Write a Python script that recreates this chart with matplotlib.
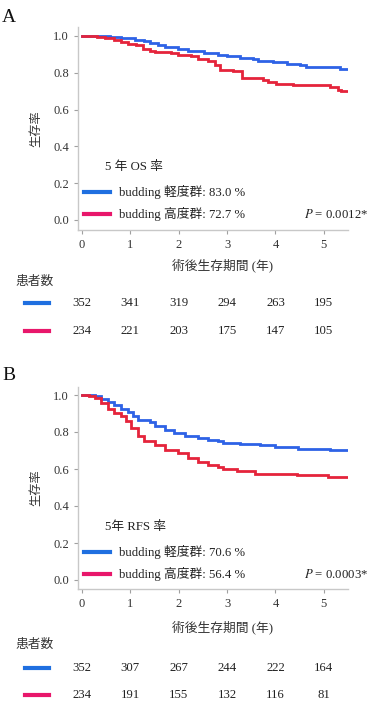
import matplotlib
matplotlib.use("Agg")
import matplotlib.pyplot as plt
from matplotlib.lines import Line2D
import matplotlib.transforms as mtransforms

W, H = 371, 710
FAM = ['Liberation Serif', 'Noto Sans CJK JP']

# ---------------- data ----------------
years = [0, 1, 2, 3, 4, 5]
groups = ["budding 軽度群", "budding 高度群"]

# Panel A (OS)
osA_low_t = [0, 0.57, 0.81, 1.09, 1.29, 1.40, 1.57, 1.71, 1.98, 2.19, 2.53, 2.81, 2.99, 3.26,
             3.53, 3.64, 3.95, 4.23, 4.5, 4.64, 5.33, 5.5]
osA_low_s = [1.0, 0.995, 0.989, 0.98, 0.975, 0.962, 0.953, 0.938, 0.929, 0.92, 0.908, 0.898,
             0.89, 0.88, 0.875, 0.862, 0.857, 0.848, 0.84, 0.83, 0.823, 0.823]
osA_high_t = [0, 0.3, 0.47, 0.67, 0.81, 0.95, 1.12, 1.26, 1.40, 1.5, 1.84, 1.98, 2.25, 2.4, 2.6,
              2.75, 2.85, 3.12, 3.3, 3.74, 3.84, 4.02, 4.37, 5.12, 5.29, 5.36, 5.5]
osA_high_s = [1.0, 0.996, 0.989, 0.98, 0.967, 0.958, 0.949, 0.931, 0.92, 0.911, 0.908, 0.898,
              0.89, 0.877, 0.862, 0.844, 0.817, 0.808, 0.772, 0.763, 0.75, 0.739, 0.732, 0.723,
              0.708, 0.70, 0.70]
osA_rates = ["83.0 %", "72.7 %"]
osA_p = "0.0012*"
osA_risk_low = [352, 341, 319, 294, 263, 195]
osA_risk_high = [234, 221, 203, 175, 147, 105]

# Panel B (RFS)
rfsB_low_t = [0, 0.2, 0.26, 0.40, 0.54, 0.67, 0.81, 0.95, 1.05, 1.16, 1.4, 1.5, 1.71, 1.91, 2.12,
              2.4, 2.6, 2.81, 2.92, 3.26, 3.68, 3.99, 4.47, 5.12, 5.5]
rfsB_low_s = [1.0, 1.0, 0.993, 0.978, 0.962, 0.944, 0.926, 0.908, 0.885, 0.867, 0.854, 0.831,
              0.812, 0.795, 0.777, 0.768, 0.758, 0.753, 0.742, 0.735, 0.73, 0.721, 0.708, 0.703,
              0.703]
rfsB_high_t = [0, 0.15, 0.26, 0.4, 0.54, 0.67, 0.81, 0.92, 1.02, 1.16, 1.29, 1.5, 1.71, 1.98,
               2.19, 2.4, 2.6, 2.81, 2.92, 3.2, 3.57, 4.44, 5.09, 5.5]
rfsB_high_s = [1.0, 0.995, 0.984, 0.957, 0.926, 0.903, 0.885, 0.858, 0.822, 0.777, 0.753,
               0.731, 0.704, 0.686, 0.659, 0.638, 0.62, 0.613, 0.598, 0.591, 0.573, 0.568,
               0.555, 0.555]
rfsB_rates = ["70.6 %", "56.4 %"]
rfsB_p = "0.0003*"
rfsB_risk_low = [352, 307, 267, 244, 222, 164]
rfsB_risk_high = [234, 191, 155, 132, 116, 81]

yticks = [0.0, 0.2, 0.4, 0.6, 0.8, 1.0]

CURVE_BLUE = "#2e62e6"
CURVE_RED = "#e5243b"
LEG_BLUE = "#1f6fe0"
LEG_RED = "#e8176b"
FS = 9.2

fig = plt.figure(figsize=(W / 100, H / 100), dpi=100)


def fx(x):
    return x / W


def fy(y):
    return 1 - y / H


def panel(letter, top, bottom, y0px, y1px, curves, title, rates, pval, risks, letter_y,
          xlabel_y, risk_title_y, row_ys):
    left, right = 78, 348
    ax = fig.add_axes([fx(left), fy(bottom), (right - left) / W, (bottom - top) / H])
    per = (y0px - y1px)
    ax.set_ylim(-(bottom - y0px) / per, 1 + (y1px - top) / per)
    ax.set_xlim(-4 / 48.4, 5.5)
    for t, s, c in curves:
        ax.step(t, s, where='post', color=c, lw=2.0, solid_joinstyle='miter')
    for sp in ['top', 'right']:
        ax.spines[sp].set_visible(False)
    for sp in ['left', 'bottom']:
        ax.spines[sp].set_color("#c8c8c8")
        ax.spines[sp].set_linewidth(1.0)
    ax.set_yticks(yticks)
    ax.set_yticklabels([f"{v:.1f}" for v in yticks])
    ax.set_xticks(years)
    ax.tick_params(colors="#a0a0a0", labelcolor="#333333", length=3, width=0.8, labelsize=9)
    for lab in ax.get_xticklabels() + ax.get_yticklabels():
        lab.set_fontfamily(FAM)
    ax.set_ylabel("生存率", fontsize=8.8, family=FAM, color="#333333")

    tr = fig.transFigure
    fig.text(fx(105), fy(top + 140), title, fontsize=FS, family=FAM, color="#222222",
             ha='left', va='center')
    leg_y = [top + 165, top + 187]
    for i, (g, r, c) in enumerate(zip(groups, rates, [LEG_BLUE, LEG_RED])):
        fig.add_artist(Line2D([fx(84), fx(110)], [fy(leg_y[i]), fy(leg_y[i])], color=c, lw=3,
                              transform=tr))
        fig.text(fx(119), fy(leg_y[i]), f"{g}: {r}", fontsize=FS, family=FAM,
                 color="#222222", ha='left', va='center')
    fig.text(fx(368), fy(leg_y[1]), "$P$ = " + pval, fontsize=FS, family=FAM,
             color="#222222", ha='right', va='center', math_fontfamily='stix')

    ax.set_xlabel("術後生存期間 (年)", fontsize=FS, family=FAM, color="#333333")
    ax.xaxis.set_label_coords(fx(222), fy(xlabel_y - 7), transform=tr)
    ax.yaxis.set_label_coords(fx(42), 0.5 * (fy(top) + fy(bottom)), transform=tr)

    fig.text(fx(2), fy(letter_y), letter, fontsize=14, family=FAM, color="#111111",
             ha='left', va='center')
    fig.text(fx(15), fy(risk_title_y), "患者数", fontsize=FS, family=FAM, color="#333333",
             ha='left', va='center')
    blend = mtransforms.blended_transform_factory(ax.transData, tr)
    for row, vals, c in zip(row_ys, risks, [LEG_BLUE, LEG_RED]):
        fig.add_artist(Line2D([fx(25), fx(49)], [fy(row), fy(row)], color=c, lw=3, transform=tr))
        for x, v in zip(years, vals):
            ax.text(x, fy(row), str(v), transform=blend, fontsize=FS, family=FAM,
                    color="#222222", ha='center', va='center', clip_on=False)
    return ax


panel("A", 27, 230, 220, 36,
      [(osA_low_t, osA_low_s, CURVE_BLUE), (osA_high_t, osA_high_s, CURVE_RED)],
      "5 年 OS 率", osA_rates, osA_p, [osA_risk_low, osA_risk_high],
      18, 265, 282, [303, 331])

panel("B", 387, 589, 580, 395,
      [(rfsB_low_t, rfsB_low_s, CURVE_BLUE), (rfsB_high_t, rfsB_high_s, CURVE_RED)],
      "5年 RFS 率", rfsB_rates, rfsB_p, [rfsB_risk_low, rfsB_risk_high],
      375, 628, 645, [668, 695])

fig.savefig("out.png", dpi=100)
